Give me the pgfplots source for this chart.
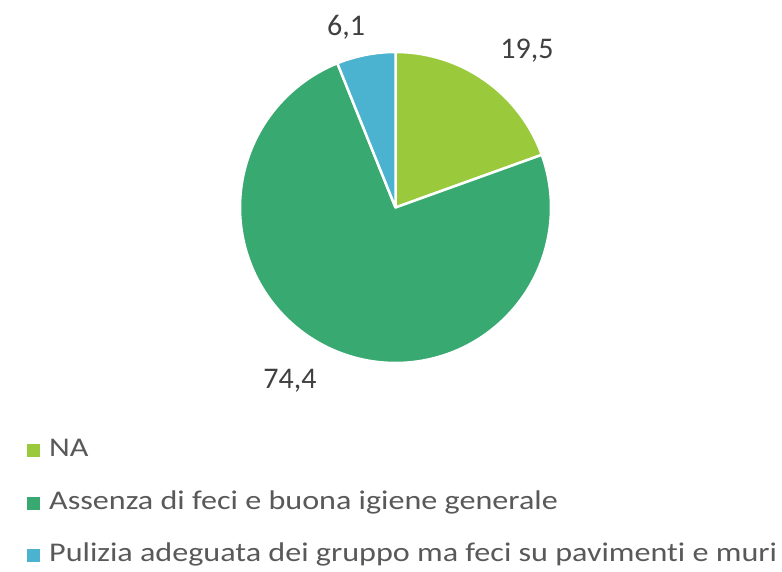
\documentclass[border=0pt]{standalone}
\usepackage{pgfplots}
\pgfplotsset{compat=1.18}
\usepackage{fontspec}
\setmainfont{Carlito}
\newfontfamily\legfont[FakeStretch=1.19, Ligatures={NoCommon}]{Carlito}
\definecolor{cNA}{HTML}{9ACA3C}
\definecolor{cAss}{HTML}{38A970}
\definecolor{cPul}{HTML}{4BB2CF}
\definecolor{lab}{HTML}{404040}
\definecolor{leg}{HTML}{595959}
\begin{document}
\begin{tikzpicture}
% values (percent)
\pgfmathsetmacro{\vNA}{19.5}
\pgfmathsetmacro{\vAss}{74.4}
\pgfmathsetmacro{\vPul}{6.1}
\pgfmathsetmacro{\aA}{90}
\pgfmathsetmacro{\aB}{90-3.6*\vNA}
\pgfmathsetmacro{\aC}{\aB-3.6*\vAss}
\pgfmathsetmacro{\aD}{\aC-3.6*\vPul}
\def\cx{395.5}
\def\cy{364.5}
\def\R{155.5}
\begin{axis}[hide axis, scale only axis, width=782pt, height=572pt,
  xmin=0, xmax=782, ymin=0, ymax=572, clip=false]
\fill[white] (axis cs:0,0) rectangle (axis cs:782,572);
\addplot[fill=cNA, draw=white, line width=2.5pt, line join=round, domain=\aB:\aA, samples=80, variable=\t]
  ({\cx+\R*cos(t)}, {\cy+\R*sin(t)}) -- (axis cs:\cx,\cy) -- cycle;
\addplot[fill=cAss, draw=white, line width=2.5pt, line join=round, domain=\aC:\aB, samples=200, variable=\t]
  ({\cx+\R*cos(t)}, {\cy+\R*sin(t)}) -- (axis cs:\cx,\cy) -- cycle;
\addplot[fill=cPul, draw=white, line width=2.5pt, line join=round, domain=\aD:\aC, samples=40, variable=\t]
  ({\cx+\R*cos(t)}, {\cy+\R*sin(t)}) -- (axis cs:\cx,\cy) -- cycle;
\node[text=lab, font=\fontsize{30}{36}\selectfont] at (axis cs:527,521) {19,5};
\node[text=lab, font=\fontsize{30}{36}\selectfont] at (axis cs:290,191) {74,4};
\node[text=lab, font=\fontsize{30}{36}\selectfont] at (axis cs:346,545) {6,1};
\node[anchor=base west, inner sep=0pt, text=leg, font=\legfont\fontsize{27}{32}\selectfont] at (axis cs:27,115) {\textcolor{cNA}{\rule{13pt}{13pt}}\hspace{9pt}NA};
\node[anchor=base west, inner sep=0pt, text=leg, font=\legfont\fontsize{27}{32}\selectfont] at (axis cs:27,62) {\textcolor{cAss}{\rule{13pt}{13pt}}\hspace{9pt}Assenza di feci e buona igiene generale};
\node[anchor=base west, inner sep=0pt, text=leg, font=\legfont\fontsize{27}{32}\selectfont] at (axis cs:27,10) {\textcolor{cPul}{\rule{13pt}{13pt}}\hspace{9pt}Pulizia adeguata dei gruppo ma feci su pavimenti e muri};
\end{axis}
\end{tikzpicture}
\end{document}
